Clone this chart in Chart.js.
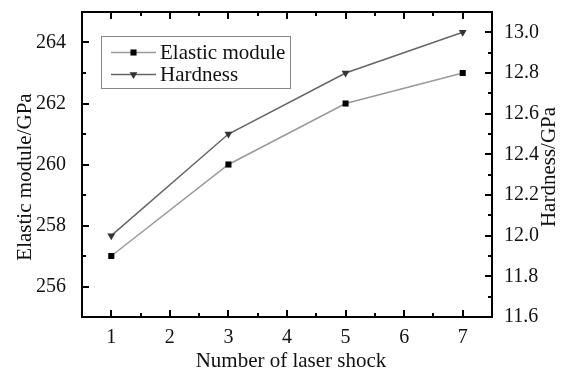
<!DOCTYPE html>
<html>
<head>
<meta charset="utf-8">
<script src="https://cdn.jsdelivr.net/npm/chart.js@4/dist/chart.umd.min.js"></script>
<style>
  html, body { margin: 0; padding: 0; background: #fff; }
</style>
</head>
<body>
<canvas id="myChart" width="562" height="371"></canvas>
<script>
// data
const shots = [1, 3, 5, 7];
const elasticModule = [257, 260, 262, 263];
const hardness = [12.0, 12.5, 12.8, 13.0];

// axis ticks
const xTicks = [1, 2, 3, 4, 5, 6, 7];
const elasticTicks = [256, 258, 260, 262, 264];
const hardnessTicks = [11.6, 11.8, 12.0, 12.2, 12.4, 12.6, 12.8, 13.0];

const serif = '"Liberation Serif", "Times New Roman", serif';

// minor ticks half way between the major ones
function midpoints(arr, lo, hi) {
    const out = [];
    const step = arr[1] - arr[0];
    const all = [arr[0] - step].concat(arr, [arr[arr.length - 1] + step]);
    for (let i = 0; i < all.length - 1; i++) {
        const m = (all[i] + all[i + 1]) / 2;
        if (m > lo + 1e-9 && m < hi - 1e-9) out.push(m);
    }
    return out;
}

const elasticPts = shots.map((s, i) => ({ x: s, y: elasticModule[i] }));
const hardnessPts = shots.map((s, i) => ({ x: s, y: hardness[i] }));

// frame, inward ticks, titles and legend
const framePlugin = {
    id: 'frameTicks',
    afterDraw(chart) {
        const { ctx, chartArea: a, scales } = chart;
        ctx.save();
        ctx.fillStyle = '#000';
        const L = Math.round(a.left), R = Math.round(a.right);
        const T = Math.round(a.top), B = Math.round(a.bottom);

        // frame as filled bars
        ctx.fillRect(L - 1, T - 1, R - L + 2, 2);
        ctx.fillRect(L - 1, B - 1, R - L + 2, 2);
        ctx.fillRect(L - 1, T - 1, 2, B - T + 2);
        ctx.fillRect(R - 1, T - 1, 2, B - T + 2);

        // x ticks, bottom and top
        xTicks.forEach(v => {
            const p = Math.round(scales.x.getPixelForValue(v));
            ctx.fillRect(p - 1, B - 7, 2, 7);
            ctx.fillRect(p - 1, T, 2, 7);
        });
        midpoints(xTicks, 0.5, 7.5).forEach(v => {
            const p = Math.round(scales.x.getPixelForValue(v));
            ctx.fillRect(p - 1, B - 4, 2, 4);
            ctx.fillRect(p - 1, T, 2, 4);
        });
        // left axis
        elasticTicks.forEach(v => {
            const p = Math.round(scales.y.getPixelForValue(v));
            ctx.fillRect(L, p - 1, 7, 2);
        });
        midpoints(elasticTicks, 255, 265).forEach(v => {
            const p = Math.round(scales.y.getPixelForValue(v));
            ctx.fillRect(L, p - 1, 4, 2);
        });
        // right axis
        hardnessTicks.forEach(v => {
            const p = Math.round(scales.y2.getPixelForValue(v));
            ctx.fillRect(R - 7, p - 1, 7, 2);
        });
        midpoints(hardnessTicks, 11.6, 13.1).forEach(v => {
            const p = Math.round(scales.y2.getPixelForValue(v));
            ctx.fillRect(R - 4, p - 1, 4, 2);
        });

        // axis titles
        ctx.fillStyle = '#111';
        ctx.font = '21px ' + serif;
        ctx.textAlign = 'center';
        ctx.textBaseline = 'middle';
        ctx.fillText('Number of laser shock', 291, 361);
        ctx.save();
        ctx.translate(25, 177);
        ctx.rotate(-Math.PI / 2);
        ctx.fillText('Elastic module/GPa', 0, 0);
        ctx.restore();
        ctx.save();
        ctx.translate(549, 167);
        ctx.rotate(-Math.PI / 2);
        ctx.fillText('Hardness/GPa', 0, 0);
        ctx.restore();

        // legend
        ctx.strokeStyle = '#888';
        ctx.lineWidth = 1;
        ctx.strokeRect(101.5, 36.5, 189, 52);
        const rows = [52.5, 74.5];
        chart.data.datasets.forEach((ds, i) => {
            const y = rows[i];
            ctx.strokeStyle = ds.borderColor;
            ctx.lineWidth = ds.borderWidth;
            ctx.beginPath(); ctx.moveTo(111, y); ctx.lineTo(156, y); ctx.stroke();
            ctx.fillStyle = ds.pointBackgroundColor;
            ctx.strokeStyle = ds.pointBackgroundColor;
            Chart.helpers.drawPoint(ctx, {
                pointStyle: ds.pointStyle,
                radius: ds.pointRadius,
                rotation: ds.pointRotation || 0,
                borderWidth: 0
            }, 133.5, y);
            ctx.fillStyle = '#111';
            ctx.textAlign = 'left';
            ctx.textBaseline = 'middle';
            ctx.fillText(ds.label, 160, y + 1);
        });
        ctx.restore();
    }
};

new Chart(document.getElementById('myChart'), {
    type: 'line',
    data: {
        datasets: [{
            label: 'Elastic module',
            data: elasticPts,
            yAxisID: 'y',
            borderColor: '#9a9a9a',
            borderWidth: 1.5,
            pointStyle: 'rect',
            pointRadius: 4.3,
            pointBackgroundColor: '#000',
            pointBorderWidth: 0,
            tension: 0
        }, {
            label: 'Hardness',
            data: hardnessPts,
            yAxisID: 'y2',
            borderColor: '#666',
            borderWidth: 1.5,
            pointStyle: 'triangle',
            pointRotation: 180,
            pointRadius: 4.5,
            pointBackgroundColor: '#333',
            pointBorderWidth: 0,
            tension: 0
        }]
    },
    options: {
        responsive: false,
        animation: false,
        devicePixelRatio: 1,
        layout: { padding: { top: 12, left: 0, right: 0, bottom: 0 } },
        plugins: {
            legend: { display: false },
            tooltip: { enabled: false }
        },
        scales: {
            x: {
                type: 'linear',
                position: 'bottom',
                min: 0.5,
                max: 7.5,
                grid: { display: false },
                border: { display: false },
                afterBuildTicks: s => { s.ticks = xTicks.map(v => ({ value: v })); },
                afterFit: s => { s.height = 54; s.paddingLeft = 0; s.paddingRight = 0; },
                ticks: {
                    padding: 1,
                    color: '#111',
                    font: { family: serif, size: 20 },
                    maxRotation: 0
                }
            },
            y: {
                position: 'left',
                min: 255,
                max: 265,
                grid: { display: false },
                border: { display: false },
                afterBuildTicks: s => { s.ticks = elasticTicks.map(v => ({ value: v })); },
                afterFit: s => { s.width = 82; s.paddingTop = 0; s.paddingBottom = 0; },
                ticks: {
                    padding: 8,
                    color: '#111',
                    font: { family: serif, size: 20 }
                }
            },
            y2: {
                position: 'right',
                min: 11.6,
                max: 13.1,
                grid: { display: false },
                border: { display: false },
                afterBuildTicks: s => { s.ticks = hardnessTicks.map(v => ({ value: v })); },
                afterFit: s => { s.width = 70; s.paddingTop = 0; s.paddingBottom = 0; },
                ticks: {
                    padding: 4,
                    color: '#111',
                    font: { family: serif, size: 20 },
                    callback: v => Number(v).toFixed(1)
                }
            }
        }
    },
    plugins: [framePlugin]
});
</script>
</body>
</html>
